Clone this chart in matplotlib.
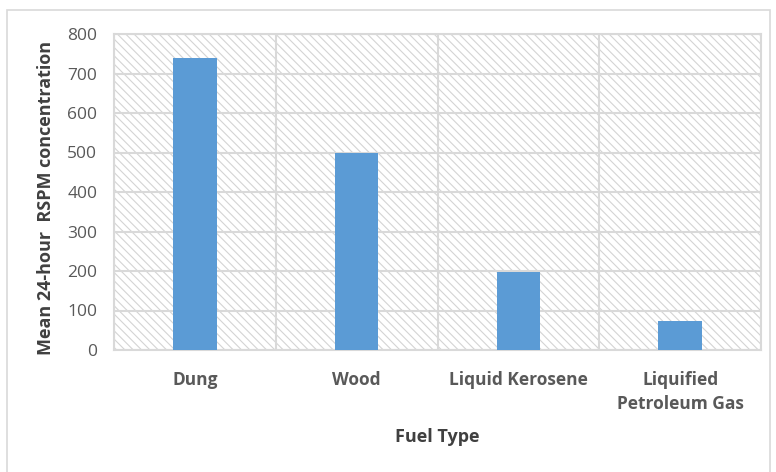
import matplotlib
matplotlib.use("Agg")
import matplotlib.pyplot as plt
from matplotlib.patches import Rectangle
import numpy as np

categories = ["Dung", "Wood", "Liquid Kerosene", "Liquified\nPetroleum Gas"]
values = [740, 500, 198, 73]
yticks = [0, 100, 200, 300, 400, 500, 600, 700, 800]

plt.rcParams['font.family'] = ['Open Sans', 'DejaVu Sans']
plt.rcParams['hatch.linewidth'] = 0.8

fig = plt.figure(figsize=(7.76, 4.72), dpi=100)
ax = fig.add_axes([114/776, 1 - 350/472, (761 - 114)/776, (350 - 34)/472])

grid_c = "#d9d9d9"
text_c = "#595959"

# hatched plot-area background
bg = Rectangle((0, 0), 1, 1, transform=ax.transAxes, facecolor="white",
               edgecolor="#d4d4d4", hatch="\\\\\\\\", linewidth=0, zorder=0)
ax.add_patch(bg)

x = np.arange(len(categories))
ax.bar(x, values, width=0.27, color="#5b9bd5", zorder=3)

ax.set_xlim(-0.5, len(categories) - 0.5)
ax.set_ylim(0, 800)
ax.set_yticks(yticks)
ax.set_yticklabels([str(v) for v in yticks], fontsize=12.5, color=text_c)
for v in yticks:
    ax.axhline(v, color=grid_c, lw=1.5, zorder=1)
for b in np.arange(-0.5, len(categories), 1.0):
    ax.axvline(b, color=grid_c, lw=1.5, zorder=1)

ax.set_xticks(x)
ax.set_xticklabels(categories, fontsize=12.5, fontweight="bold", color=text_c,
                   linespacing=1.45)
ax.tick_params(axis="both", length=0)
ax.tick_params(axis="x", pad=15)
ax.tick_params(axis="y", pad=12)
for s in ax.spines.values():
    s.set_color(grid_c)
    s.set_linewidth(1.5)

fig.text(46/776, 1 - 198/472, "Mean 24-hour  RSPM concentration", rotation=90,
         ha="center", va="center", fontsize=13, fontweight="bold", color="#404040")
fig.text(437/776, 1 - 437/472, "Fuel Type", ha="center", va="center",
         fontsize=13, fontweight="bold", color="#404040")

# chart-area frame
fig.patches.append(Rectangle((7/776, -0.05), (770 - 7)/776, 1.05 - 10/472,
                             transform=fig.transFigure, fill=False,
                             edgecolor=grid_c, lw=1.2))

fig.savefig("out.png", dpi=100)
